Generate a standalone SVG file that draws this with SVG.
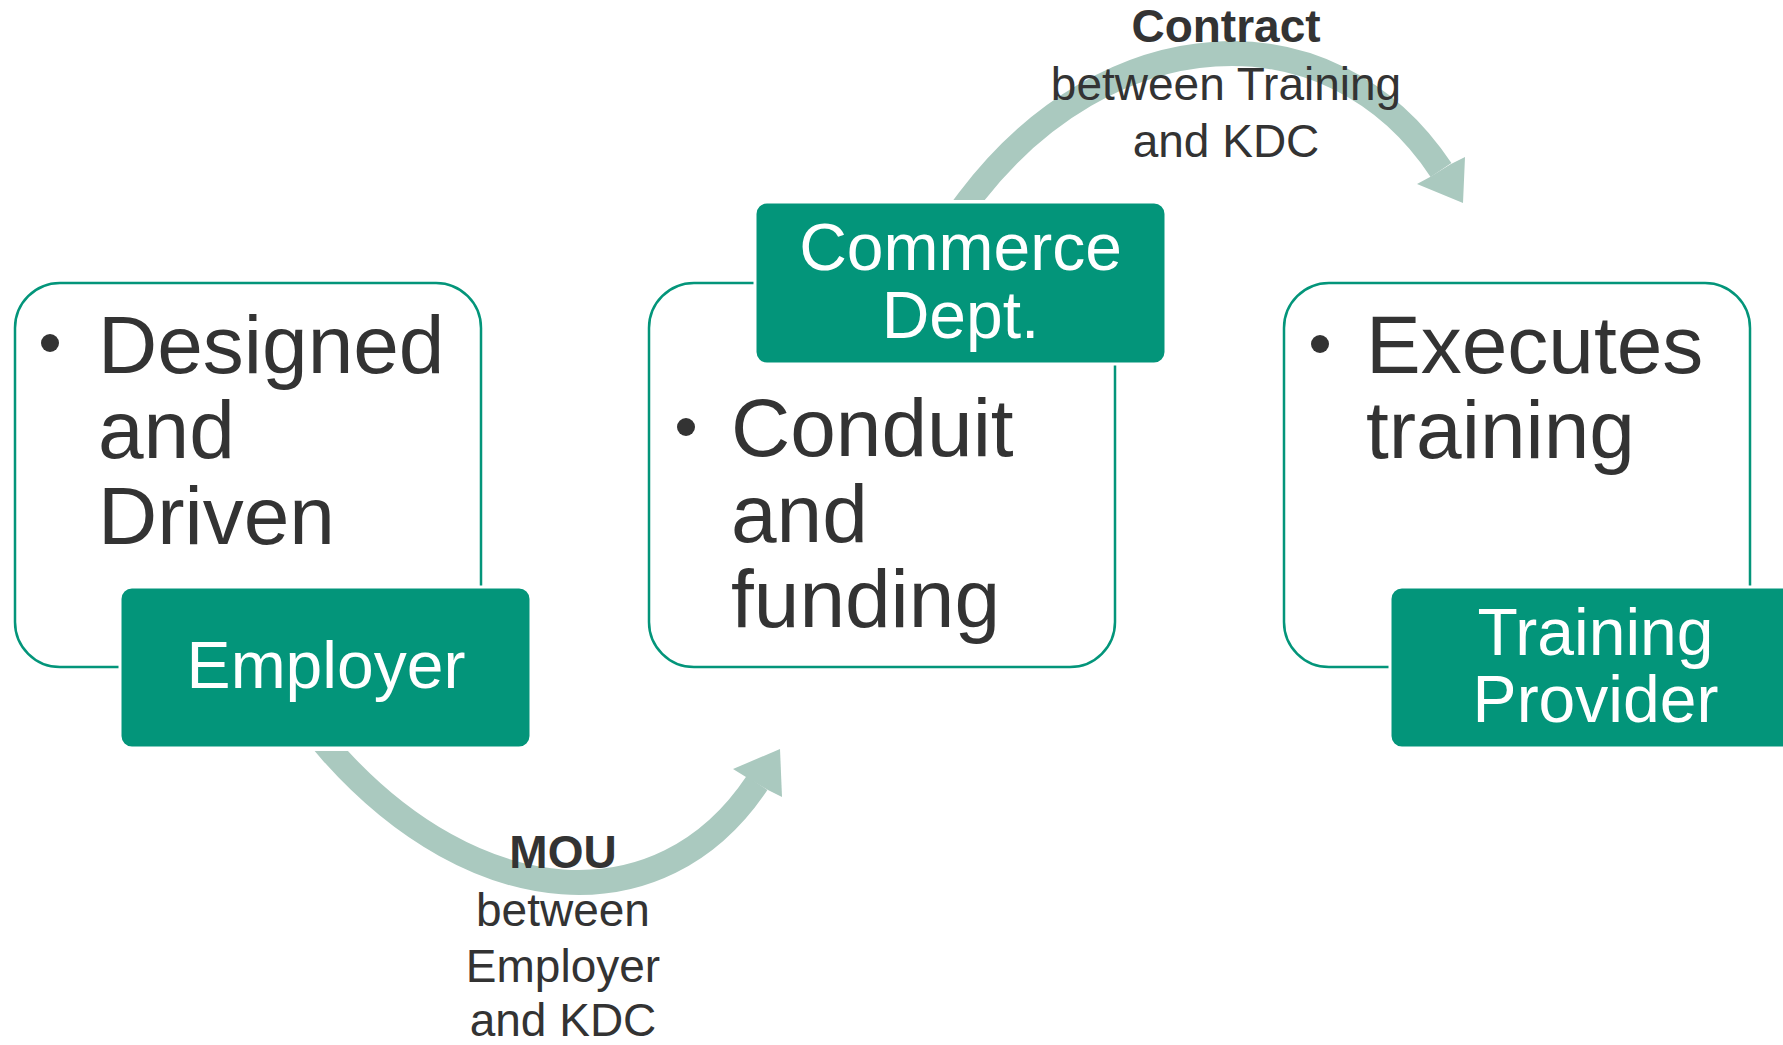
<svg xmlns="http://www.w3.org/2000/svg" width="1783" height="1045" viewBox="0 0 1783 1045">
<defs>
<style>
.outline{fill:#fff;stroke:#03957A;stroke-width:2.5}
.fill{fill:#03957A;stroke:#fff;stroke-width:3}
.body{font-family:"Liberation Sans",Arial,sans-serif;font-size:82px;fill:#333}
.head{font-family:"Liberation Sans",Arial,sans-serif;font-size:66px;fill:#fff;text-anchor:middle}
.lbl{font-family:"Liberation Sans",Arial,sans-serif;font-size:46px;fill:#333;text-anchor:middle}
.lbl .b{font-weight:bold}
.band{fill:none;stroke:#AAC9BF;stroke-width:25}
.head-arrow{fill:#AAC9BF}
.dot{fill:#333}
</style>
<clipPath id="clipBottom"><rect x="0" y="751" width="1783" height="294"/></clipPath>
<clipPath id="clipTop"><rect x="0" y="0" width="1783" height="200"/></clipPath>
</defs>
<rect width="1783" height="1045" fill="#fff"/>
<g id="connectors">
  <path class="band" clip-path="url(#clipBottom)" d="M320,738 L332,752 C475,913 661,927 757,783"/>
  <polygon class="head-arrow" points="780,749 782,797 768,790 746,777 733,769"/>
  <path class="band" clip-path="url(#clipTop)" d="M957,216 L969,200 C1106,18 1330,3 1441,170"/>
  <polygon class="head-arrow" points="1463,203 1465,157 1451,164 1430,177 1417,184"/>
</g>
<g id="node-employer">
  <rect class="outline" x="15" y="283" width="466" height="384" rx="45"/>
  <circle class="dot" cx="50" cy="343" r="9"/>
  <text class="body" x="98" y="373">Designed</text>
  <text class="body" x="98" y="458">and</text>
  <text class="body" x="98" y="544">Driven</text>
  <rect class="fill" x="120" y="587" width="411" height="161" rx="12"/>
  <text class="head" x="326" y="688">Employer</text>
</g>
<g id="node-commerce">
  <rect class="outline" x="649" y="283" width="466" height="384" rx="45"/>
  <circle class="dot" cx="686" cy="427" r="9"/>
  <text class="body" x="731" y="456">Conduit</text>
  <text class="body" x="731" y="542">and</text>
  <text class="body" x="731" y="627">funding</text>
  <rect class="fill" x="755" y="202" width="411" height="162" rx="12"/>
  <text class="head" x="960.5" y="270">Commerce</text>
  <text class="head" x="960.5" y="338">Dept.</text>
</g>
<g id="node-provider">
  <rect class="outline" x="1284" y="283" width="466" height="384" rx="45"/>
  <circle class="dot" cx="1320" cy="344" r="9"/>
  <text class="body" x="1366" y="373">Executes</text>
  <text class="body" x="1366" y="458">training</text>
  <rect class="fill" x="1390" y="587" width="411" height="161" rx="12"/>
  <text class="head" x="1595.5" y="655">Training</text>
  <text class="head" x="1595.5" y="722">Provider</text>
</g>
<g id="labels">
  <text class="lbl" x="563" y="868"><tspan class="b">MOU</tspan></text>
  <text class="lbl" x="563" y="926">between</text>
  <text class="lbl" x="563" y="982">Employer</text>
  <text class="lbl" x="563" y="1036">and KDC</text>
  <text class="lbl" x="1226" y="42"><tspan class="b">Contract</tspan></text>
  <text class="lbl" x="1226" y="100">between Training</text>
  <text class="lbl" x="1226" y="157">and KDC</text>
</g>
</svg>
